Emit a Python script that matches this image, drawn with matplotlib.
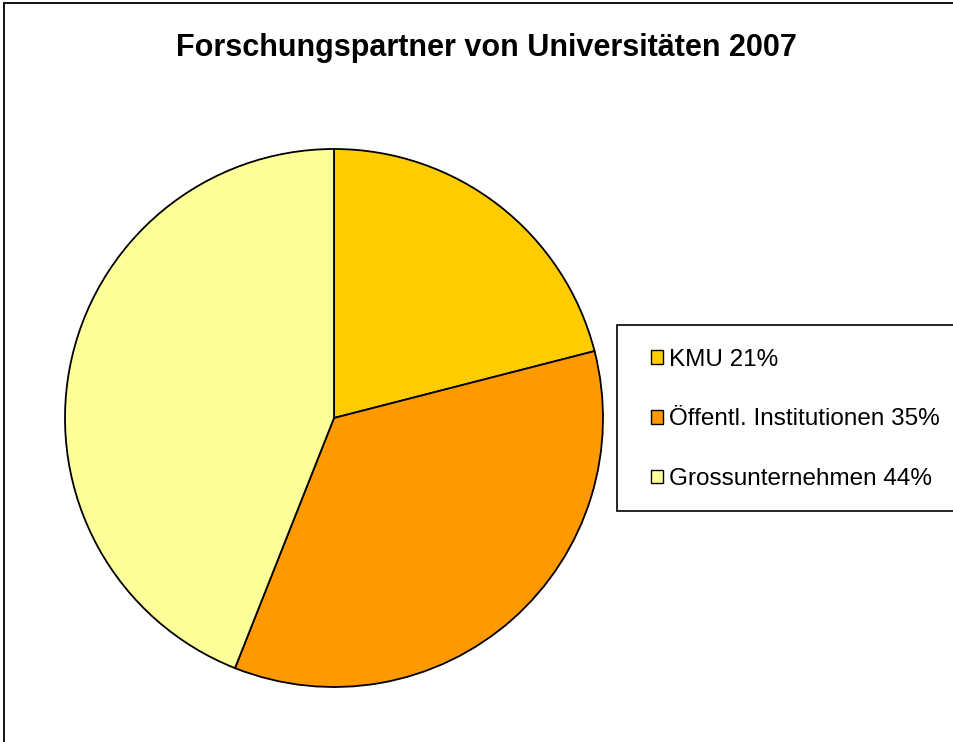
import matplotlib
matplotlib.use("Agg")
import matplotlib.pyplot as plt
from matplotlib.patches import Patch, Rectangle

title = "Forschungspartner von Universitäten 2007"
labels = ["KMU", "Öffentl. Institutionen", "Grossunternehmen"]
shares = [21, 35, 44]
colors = ["#FFCC00", "#FF9900", "#FFFF99"]

W, H = 954, 742
plt.rcParams["font.family"] = ["Liberation Sans", "DejaVu Sans"]
fig = plt.figure(figsize=(W / 100, H / 100), dpi=100)

# outer chart frame (right and bottom run off the picture)
fig.patches.append(Rectangle((4 / W, -0.01), 1.0, (H - 3) / H + 0.01,
                             transform=fig.transFigure, fill=False,
                             edgecolor="black", lw=1.3))

fig.text(486 / W, 1 - 48 / H, title, ha="center", va="center",
         fontsize=22, fontweight="bold")

cx, cy, r = 334, 418, 269
ax = fig.add_axes([(cx - r) / W, (H - cy - r) / H, 2 * r / W, 2 * r / H])
ax.pie(shares, colors=colors, startangle=90, counterclock=False, radius=1,
       wedgeprops=dict(edgecolor="black", linewidth=1.3, clip_on=False))
ax.set_xlim(-1.0, 1.0)
ax.set_ylim(-1.0, 1.0)
ax.set_aspect("equal")
ax.axis("off")

# legend box
fig.patches.append(Rectangle((617 / W, 1 - 511 / H), 1.0, 186 / H,
                             transform=fig.transFigure, facecolor="white",
                             edgecolor="black", lw=1.2))
handles = [Patch(facecolor=c, edgecolor="black", lw=1.0) for c in colors]
leg_labels = [f"{l} {s}%" for l, s in zip(labels, shares)]
fig.legend(handles, leg_labels, loc="upper left",
           bbox_to_anchor=(641 / W, 1 - 339 / H), frameon=False,
           fontsize=17.5, handlelength=0.5, handleheight=0.5,
           handletextpad=0.25, labelspacing=1.55, borderaxespad=0)

fig.savefig("out.png", dpi=100)
